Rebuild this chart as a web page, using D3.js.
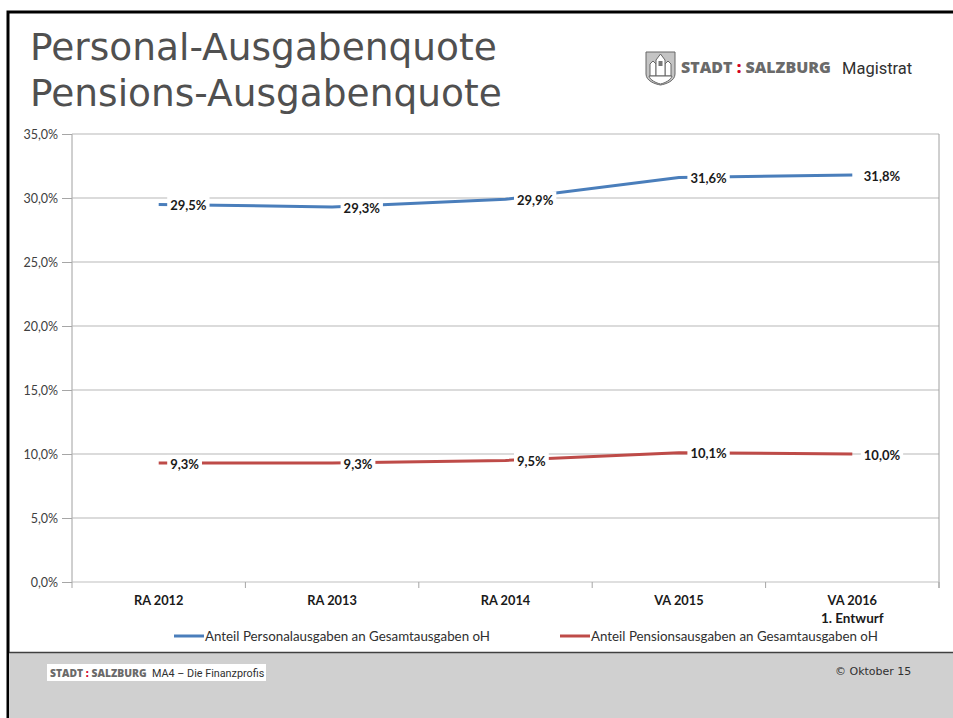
<!DOCTYPE html>
<html>
<head>
<meta charset="utf-8">
<script src="https://d3js.org/d3.v7.min.js"></script>
<style>
body { margin: 0; background: #fff; overflow: hidden; }
svg { display: block; }
text { font-family: Lato, sans-serif; }
</style>
</head>
<body>
<svg id="chart" width="953" height="718"></svg>
<script>
var categories = ["RA 2012", "RA 2013", "RA 2014", "VA 2015", "VA 2016"];
var personal = [29.5, 29.3, 29.9, 31.6, 31.8];
var pension = [9.3, 9.3, 9.5, 10.1, 10.0];
var yTicks = [0, 5, 10, 15, 20, 25, 30, 35];
var titleLines = ["Personal-Ausgabenquote", "Pensions-Ausgabenquote"];
var legendNames = ["Anteil Personalausgaben an Gesamtausgaben oH", "Anteil Pensionsausgaben an Gesamtausgaben oH"];

var blue = "#4a7ebb", red = "#be4b48", grid = "#b8b8b8";
var svg = d3.select("#chart");
var comma = function(v) { return d3.format(".1f")(v).replace(".", ","); };

// slide frame and footer
svg.append("rect").attr("x", 8).attr("y", 12).attr("width", 960).attr("height", 720)
    .attr("fill", "#fff").attr("stroke", "#000").attr("stroke-width", 3);
svg.append("rect").attr("x", 9).attr("y", 653).attr("width", 944).attr("height", 65).attr("fill", "#d0d0d0");
svg.append("line").attr("x1", 9).attr("x2", 953).attr("y1", 652.5).attr("y2", 652.5)
    .attr("stroke", "#404040").attr("stroke-width", 1.3);

svg.selectAll(".title").data(titleLines).join("text")
    .attr("class", "title")
    .attr("x", 30).attr("y", function(d, i) { return 60 + i * 46; })
    .attr("font-size", 37.5).attr("fill", "#505050")
    .style("font-family", "'DejaVu Sans'")
    .text(function(d) { return d; });

// scales
var x = d3.scaleBand().domain(categories).range([72, 939]);
var y = d3.scaleLinear().domain([0, 35]).range([582, 134]);

var yAxis = d3.axisLeft(y).tickValues(yTicks).tickSize(10).tickPadding(4)
    .tickFormat(function(d) { return comma(d) + "%"; });
var yG = svg.append("g").attr("transform", "translate(72,0)").call(yAxis);
yG.select(".domain").attr("stroke", "#a0a0a0").attr("d", "M0,134V582");
yG.selectAll(".tick line").attr("stroke", "#a6a6a6");
yG.selectAll(".tick text").attr("font-size", 12.5).attr("fill", "#404040").style("font-family", "Lato");

svg.append("g").selectAll("line").data(yTicks.filter(function(d) { return d > 0; })).join("line")
    .attr("x1", 72).attr("x2", 939)
    .attr("y1", function(d) { return y(d); }).attr("y2", function(d) { return y(d); })
    .attr("stroke", grid).attr("stroke-width", 1.2);
svg.append("line").attr("x1", 939).attr("x2", 939).attr("y1", 134).attr("y2", 588)
    .attr("stroke", "#a0a0a0");

var xAxis = d3.axisBottom(x).tickSize(0).tickPadding(14);
var xG = svg.append("g").attr("transform", "translate(0,582)").call(xAxis);
xG.select(".domain").attr("stroke", "#bfbfbf").attr("stroke-width", 1.2).attr("d", "M72,0H939");
xG.selectAll(".tick text").attr("font-size", 12.8).attr("font-weight", 700).attr("fill", "#1a1a1a")
    .style("font-family", "Lato");
xG.selectAll(".sep").data(d3.range(categories.length + 1)).join("line").attr("class", "sep")
    .attr("x1", function(i) { return 72 + i * x.step(); }).attr("x2", function(i) { return 72 + i * x.step(); })
    .attr("y1", 0).attr("y2", 6).attr("stroke", "#a6a6a6");
xG.append("text").attr("x", x("VA 2016") + x.bandwidth() / 2).attr("y", 40.5).attr("text-anchor", "middle")
    .attr("font-size", 13.5).attr("font-weight", 700).attr("fill", "#1a1a1a").style("font-family", "Lato")
    .text("1. Entwurf");

// lines, then labels with a white box on top
var line = d3.line()
    .x(function(d, i) { return x(categories[i]) + x.bandwidth() / 2; })
    .y(function(d) { return y(d); });

function drawSeries(values, color) {
    svg.append("path").attr("d", line(values)).attr("fill", "none")
        .attr("stroke", color).attr("stroke-width", 3);
    var g = svg.append("g").selectAll("g").data(values).join("g")
        .attr("transform", function(d, i) {
            return "translate(" + (x(categories[i]) + x.bandwidth() / 2 + 11.5) + "," + (y(d) + 1) + ")";
        });
    var t = g.append("text").attr("dy", "0.35em")
        .attr("font-size", 13).attr("font-weight", 700).attr("fill", "#1a1a1a").style("font-family", "Lato")
        .text(function(d) { return comma(d) + "%"; });
    g.insert("rect", "text").attr("x", -3).attr("y", -9)
        .attr("width", function() { return this.parentNode.querySelector("text").getComputedTextLength() + 6; })
        .attr("height", 18).attr("fill", "#fff");
}
drawSeries(personal, blue);
drawSeries(pension, red);

// legend
var legendX = [174, 560];
[blue, red].forEach(function(c, i) {
    svg.append("line").attr("x1", legendX[i]).attr("x2", legendX[i] + 30)
        .attr("y1", 636).attr("y2", 636).attr("stroke", c).attr("stroke-width", 3);
    svg.append("text").attr("x", legendX[i] + 31).attr("y", 640.5)
        .attr("font-size", 13.33).attr("fill", "#303030").style("font-family", "Lato").text(legendNames[i]);
});

// header logo
function drawLogo() {
    var l = svg.append("g").attr("transform", "translate(646,52)");
    l.append("path").attr("d", "M0,0H29V22C29,29 20,32 14.5,33C9,32 0,29 0,22Z")
        .attr("fill", "#c4c4c4").attr("stroke", "#666").attr("stroke-width", 1);
    [[4, 9], [19, 9]].forEach(function(p) {
        l.append("path").attr("d", "M" + p[0] + "," + (p[1] + 15) + "V" + (p[1] + 3) + "L" + (p[0] + 3) + "," + p[1] + "L" + (p[0] + 6) + "," + (p[1] + 3) + "V" + (p[1] + 15) + "Z")
            .attr("fill", "#fff").attr("stroke", "#666");
    });
    l.append("path").attr("d", "M10,24V8L14.5,2L19,8V24Z").attr("fill", "#fff").attr("stroke", "#666");
    l.append("rect").attr("x", 12.5).attr("y", 9).attr("width", 4).attr("height", 5).attr("fill", "#777");
    l.append("path").attr("d", "M3,24H26C25,28 19,31 14.5,32C10,31 4,28 3,24Z").attr("fill", "#fff").attr("stroke", "#666");
}
drawLogo();

function wordmark(px, py, size) {
    var t = svg.append("text").attr("x", px).attr("y", py).attr("font-size", size)
        .attr("font-weight", 800).attr("fill", "#6a6a6a").style("font-family", "'Open Sans'");
    t.append("tspan").text("STADT ");
    t.append("tspan").attr("fill", "#d2001e").text(":");
    t.append("tspan").text(" SALZBURG");
}
wordmark(681, 73, 16);
svg.append("text").attr("x", 842).attr("y", 74).attr("font-size", 16.5).attr("fill", "#303030")
    .style("font-family", "Roboto").text("Magistrat");

// footer texts
svg.append("rect").attr("x", 47).attr("y", 664).attr("width", 219).attr("height", 17).attr("fill", "#fff");
wordmark(50, 677, 10.3);
svg.append("text").attr("x", 152).attr("y", 677).attr("font-size", 10.8).attr("fill", "#303030")
    .style("font-family", "Roboto").text("MA4 – Die Finanzprofis");
svg.append("text").attr("x", 835).attr("y", 675).attr("font-size", 11).attr("fill", "#303030")
    .style("font-family", "'DejaVu Sans'").text("© Oktober 15");
</script>
</body>
</html>
